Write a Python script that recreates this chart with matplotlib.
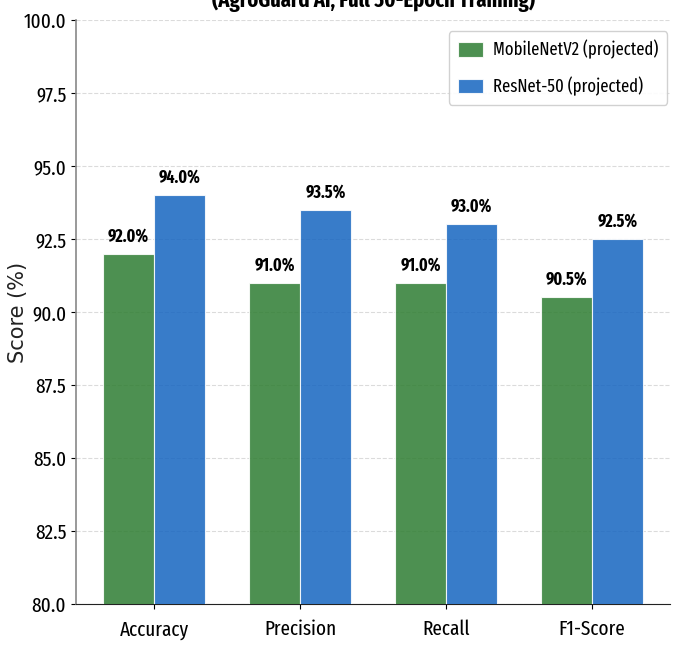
import matplotlib

matplotlib.use("Agg")
import matplotlib.pyplot as plt
import numpy as np
from matplotlib import font_manager

# --- data -----------------------------------------------------------------
METRICS = ["Accuracy", "Precision", "Recall", "F1-Score"]
MOBILENET = [92.0, 91.0, 91.0, 90.5]
RESNET = [94.0, 93.5, 93.0, 92.5]
SERIES = ["MobileNetV2 (projected)", "ResNet-50 (projected)"]
TITLE = "(AgroGuard AI, Full 50-Epoch Training)"
YTICKS = [80.0, 82.5, 85.0, 87.5, 90.0, 92.5, 95.0, 97.5, 100.0]

# the reference text is very narrow; take the first condensed face installed
_names = {f.name for f in font_manager.fontManager.ttflist}
_wanted = ["Noto Sans ExtraCondensed", "Fira Sans Extra Condensed",
           "Roboto Condensed", "Barlow Condensed"]
NARROW = next((n for n in _wanted if n in _names), "DejaVu Sans")
plt.rcParams["font.family"] = [NARROW, "DejaVu Sans"]

fig = plt.figure(figsize=(6.75, 6.46), dpi=100)
ax = fig.add_axes([0.1126, 0.065, 0.88, 0.904])

x = np.arange(len(METRICS))
w = 0.35
b1 = ax.bar(x - w / 2, MOBILENET, w, color="#2E7D32", alpha=0.85,
            edgecolor="white", linewidth=0.8, label=SERIES[0], zorder=3)
b2 = ax.bar(x + w / 2, RESNET, w, color="#1565C0", alpha=0.85,
            edgecolor="white", linewidth=0.8, label=SERIES[1], zorder=3)

for bars in (b1, b2):
    for r in bars:
        v = r.get_height()
        ax.text(r.get_x() + r.get_width() / 2, v + 0.3, f"{v:.1f}%",
                ha="center", va="bottom", fontsize=12.5, fontweight="bold")

ax.set_ylim(80, 100)
ax.set_yticks(YTICKS)
ax.set_yticklabels([f"{t:.1f}" for t in YTICKS])
ax.set_xticks(x)
ax.set_xticklabels(METRICS)
ax.tick_params(axis="both", labelsize=15)
ax.tick_params(axis="x", pad=8)
ax.set_ylabel("Score (%)", fontsize=15, family="DejaVu Sans", color="#222222")
ax.yaxis.set_label_coords(-0.08, 0.5)

ax.grid(axis="y", linestyle="--", color="#cccccc", alpha=0.7, zorder=0)
ax.set_axisbelow(True)
for s in ("top", "right"):
    ax.spines[s].set_visible(False)
ax.spines["left"].set_color("#888888")
ax.spines["left"].set_linewidth(1.2)
ax.spines["bottom"].set_color("#222222")

ax.legend(loc="upper right", bbox_to_anchor=(1.0, 0.986), fontsize=13,
          framealpha=0.9, edgecolor="#cccccc", handlelength=1.4,
          handleheight=0.85, handletextpad=0.55, labelspacing=0.95,
          borderpad=0.5, borderaxespad=0.15)

fig.text(0.5526, 1 - 6.5 / 646, TITLE, ha="center", va="baseline",
         fontsize=16, fontweight="bold")

fig.savefig("out.png", dpi=100)
